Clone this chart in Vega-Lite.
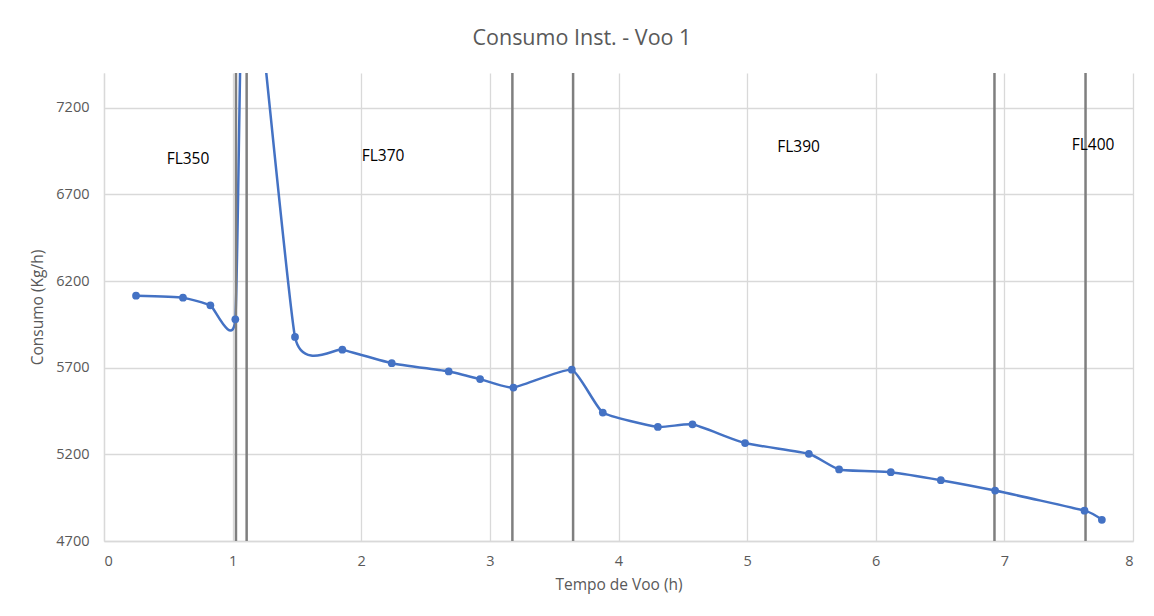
{
  "$schema": "https://vega.github.io/schema/vega-lite/v6.json",
  "width": 1029,
  "height": 468,
  "autosize": "none",
  "padding": {"left": 104, "right": 21, "top": 73, "bottom": 75},
  "background": "white",
  "title": {
    "text": "Consumo Inst. - Voo 1",
    "frame": "bounds",
    "anchor": "middle",
    "font": "Open Sans",
    "fontSize": 21.5,
    "fontWeight": "normal",
    "color": "#595959",
    "offset": 22
  },
  "config": {
    "view": {"stroke": null},
    "axis": {
      "labelFont": "Open Sans",
      "titleFont": "Open Sans",
      "labelColor": "#595959",
      "titleColor": "#595959",
      "labelFontSize": 14.5,
      "titleFontSize": 15.5,
      "titleFontWeight": "normal",
      "gridColor": "#d9d9d9",
      "gridWidth": 1.3,
      "domainColor": "#d9d9d9",
      "domainWidth": 1.3,
      "ticks": false
    }
  },
  "datasets": {
    "consumo": [
      {"t": 0.249, "c": 6115},
      {"t": 0.614, "c": 6104},
      {"t": 0.827, "c": 6060},
      {"t": 1.021, "c": 5979},
      {"t": 1.1, "c": 8450},
      {"t": 1.485, "c": 5877},
      {"t": 1.853, "c": 5804},
      {"t": 2.237, "c": 5726},
      {"t": 2.68, "c": 5678},
      {"t": 2.924, "c": 5634},
      {"t": 3.183, "c": 5585},
      {"t": 3.637, "c": 5688},
      {"t": 3.878, "c": 5441},
      {"t": 4.306, "c": 5358},
      {"t": 4.575, "c": 5373},
      {"t": 4.984, "c": 5265},
      {"t": 5.48, "c": 5203},
      {"t": 5.715, "c": 5113},
      {"t": 6.117, "c": 5097},
      {"t": 6.506, "c": 5051},
      {"t": 6.928, "c": 4991},
      {"t": 7.623, "c": 4875},
      {"t": 7.758, "c": 4822}
    ],
    "limites": [
      {"t": 1.026},
      {"t": 1.109},
      {"t": 3.175},
      {"t": 3.647},
      {"t": 6.923},
      {"t": 7.631}
    ],
    "niveis": [
      {"t": 0.653, "c": 6905, "nivel": "FL350"},
      {"t": 2.17, "c": 6920, "nivel": "FL370"},
      {"t": 5.4, "c": 6972, "nivel": "FL390"},
      {"t": 7.69, "c": 6985, "nivel": "FL400"}
    ]
  },
  "encoding": {
    "x": {
      "field": "t",
      "type": "quantitative",
      "scale": {"domain": [0, 8], "nice": false},
      "axis": {
        "title": "Tempo de Voo (h)",
        "values": [0, 1, 2, 3, 4, 5, 6, 7, 8],
        "format": "d",
        "labelPadding": 13,
        "titlePadding": 10,
        "grid": true
      }
    }
  },
  "layer": [
    {
      "data": {"name": "consumo"},
      "mark": {"type": "line", "interpolate": "cardinal", "tension": 0.55, "clip": true, "color": "#4472C4", "strokeWidth": 2.5},
      "encoding": {
        "y": {
          "field": "c",
          "type": "quantitative",
          "scale": {"domain": [4700, 7400], "nice": false, "zero": false},
          "axis": {
            "title": "Consumo (Kg/h)",
            "values": [4700, 5200, 5700, 6200, 6700, 7200],
            "format": "d",
            "labelPadding": 15,
            "titlePadding": 10,
            "grid": true
          }
        }
      }
    },
    {
      "data": {"name": "limites"},
      "mark": {"type": "rule", "color": "#7f7f7f", "strokeWidth": 2.5},
      "encoding": {}
    },
    {
      "data": {"name": "consumo"},
      "mark": {"type": "point", "filled": true, "opacity": 1, "clip": true, "color": "#4472C4", "size": 60},
      "encoding": {
        "y": {"field": "c", "type": "quantitative"}
      }
    },
    {
      "data": {"name": "niveis"},
      "mark": {"type": "text", "font": "Open Sans", "fontSize": 15.5, "color": "#000000", "align": "center", "baseline": "middle"},
      "encoding": {
        "y": {"field": "c", "type": "quantitative"},
        "text": {"field": "nivel"}
      }
    }
  ]
}
